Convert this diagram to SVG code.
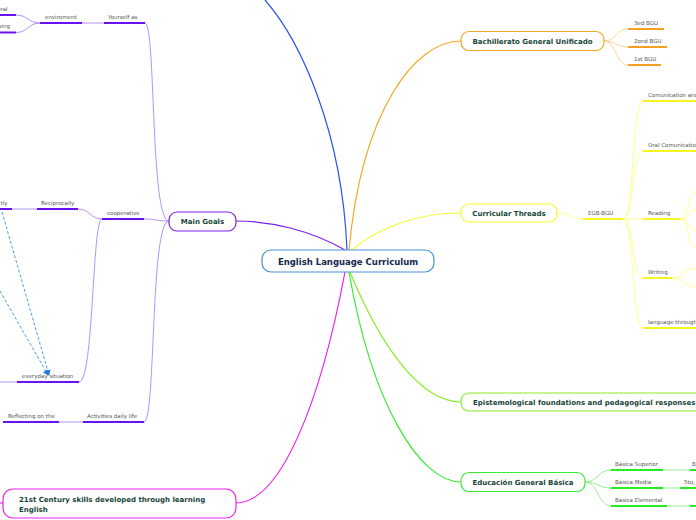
<svg xmlns="http://www.w3.org/2000/svg" width="696" height="520" viewBox="0 0 696 520">
<defs>
<style>
.node{fill:#fff;stroke-width:1.2}
.nt{font-family:"DejaVu Sans",Verdana,sans-serif;font-weight:bold;font-size:7px;fill:#17443a}
.lb{font-family:"DejaVu Sans",Verdana,sans-serif;font-size:5.5px;fill:#555}
.c{fill:none;stroke-width:1.2}
.u{fill:none;stroke-width:2}
.t{fill:none;stroke-width:0.9}
</style>
<marker id="ah" markerWidth="6" markerHeight="6" refX="5" refY="3" orient="auto" markerUnits="userSpaceOnUse">
<path d="M0,0 L6,3 L0,6 Z" fill="#2a7ae0"/>
</marker>
</defs>
<rect width="696" height="520" fill="#fff"/>

<g id="connectors">
<path class="c" stroke="#2255ee" d="M347,250 C342,130 300,40 265,0"/>
<path class="c" stroke="#f5a623" d="M349,250 C362,110 415,41 461,41"/>
<path class="c" stroke="#f8f830" d="M352,250 C380,226 420,213 461,213"/>
<path class="c" stroke="#7a22ee" d="M345,250 C310,230 270,221 236,221"/>
<path class="c" stroke="#88ee22" d="M350,272 C380,345 420,402 461,402"/>
<path class="c" stroke="#33ee33" d="M349,272 C372,405 420,482 461,482"/>
<path class="c" stroke="#ee22ee" d="M345,272 C320,405 280,503 236,503"/>
<path class="c" stroke="#ee22ee" d="M3,503 L0,503"/>

<path class="t" stroke="#fcd088" d="M604,41 C616,41 616,29 628,29"/>
<path class="t" stroke="#fcd088" d="M604,41 C616,41 616,47 628,47"/>
<path class="t" stroke="#fcd088" d="M604,41 C616,41 616,65 628,65"/>
<path class="u" stroke="#f5a020" d="M628,29 L664,29 M628,47 L667,47 M628,65 L661,65"/>

<path class="t" stroke="#ffff80" d="M557,213 C570,213 570,219 583,219"/>
<path class="u" stroke="#f5f520" d="M583,219 L623,219"/>
<path class="t" stroke="#ffff80" d="M623,219 L643,219"/>
<path class="t" stroke="#ffff80" d="M623,219 C634,219 632,101 643,101"/>
<path class="t" stroke="#ffff80" d="M623,219 C634,219 632,151 643,151"/>
<path class="t" stroke="#ffff80" d="M623,219 C634,219 632,278 643,278"/>
<path class="t" stroke="#ffff80" d="M623,219 C634,219 632,328 643,328"/>
<path class="u" stroke="#f5f520" d="M643,101 L696,101 M643,151 L696,151 M643,219 L680,219 M643,278 L672,278 M643,328 L696,328"/>
<path class="t" stroke="#ffff80" d="M680,219 C690,219 686,192 696,192"/>
<path class="t" stroke="#ffff80" d="M680,219 C690,219 688,210 696,210"/>
<path class="t" stroke="#ffff80" d="M680,219 C690,219 688,230 696,230"/>
<path class="t" stroke="#ffff80" d="M680,219 C690,219 686,247 696,247"/>
<path class="t" stroke="#ffff80" d="M672,278 C684,278 684,268 696,268"/>
<path class="t" stroke="#ffff80" d="M672,278 C684,278 684,287 696,287"/>

<path class="t" stroke="#88ee88" d="M585,482 C598,482 598,470 611,470"/>
<path class="t" stroke="#88ee88" d="M585,482 C598,482 598,488 611,488"/>
<path class="t" stroke="#88ee88" d="M585,482 C598,482 598,506 611,506"/>
<path class="u" stroke="#22ee22" d="M611,470 L663,470 M611,488 L663,488 M611,506 L667,506"/>
<path class="t" stroke="#88ee88" d="M663,470 L690,470 M663,488 L680,488 M667,506 L690,506"/>
<path class="u" stroke="#22ee22" d="M690,470 L696,470 M680,488 L696,488 M690,506 L696,506"/>

<path class="t" stroke="#a888f8" d="M169,221 C150,221 156,23 145,23"/>
<path class="t" stroke="#a888f8" d="M169,221 C156,221 156,219 144,219"/>
<path class="t" stroke="#a888f8" d="M169,221 C150,221 156,422 144,422"/>
<path class="u" stroke="#6a11f0" d="M104,23 L145,23"/>
<path class="t" stroke="#a888f8" d="M82,23 L104,23"/>
<path class="u" stroke="#6a11f0" d="M40,23 L82,23"/>
<path class="t" stroke="#a888f8" d="M40,23 C28,23 28,15 16,15"/>
<path class="t" stroke="#a888f8" d="M40,23 C28,23 28,32.5 16,32.5"/>
<path class="u" stroke="#6a11f0" d="M0,15 L16,15 M0,32.5 L16,32.5"/>

<path class="u" stroke="#6a11f0" d="M102,219 L144,219"/>
<path class="t" stroke="#a888f8" d="M102,219 C90,219 90,209 78,209"/>
<path class="t" stroke="#a888f8" d="M102,219 C92,219 94,382 79,382"/>
<path class="u" stroke="#6a11f0" d="M37,209 L78,209"/>
<path class="t" stroke="#a888f8" d="M12,209 L37,209"/>
<path class="u" stroke="#6a11f0" d="M0,209 L12,209"/>
<path class="u" stroke="#6a11f0" d="M17,382 L79,382"/>
<path class="t" stroke="#a888f8" d="M0,382 L17,382"/>

<path class="u" stroke="#6a11f0" d="M83,422 L144,422"/>
<path class="t" stroke="#a888f8" d="M59,422 L83,422"/>
<path class="u" stroke="#6a11f0" d="M3,422 L59,422"/>

<path fill="none" stroke="#4a9ae8" stroke-width="1" stroke-dasharray="3,2" d="M2,212 L49,375" marker-end="url(#ah)"/>
<path fill="none" stroke="#4a9ae8" stroke-width="1" stroke-dasharray="3,2" d="M0,291 L48,375" marker-end="url(#ah)"/>
</g>

<g id="center">
<rect class="node" x="262" y="250" width="172" height="22" rx="9" stroke="#4a90d9"/>
<text x="348" y="264.5" text-anchor="middle" font-family="DejaVu Sans,Verdana,sans-serif" font-weight="bold" font-size="8.5" fill="#142850">English Language Curriculum</text>
</g>

<g id="bachillerato">
<rect class="node" x="461" y="31.5" width="143" height="19" rx="8" stroke="#f5a623"/>
<text class="nt" x="532.5" y="43.5" text-anchor="middle">Bachillerato General Unificado</text>
</g>
<g id="bgu3"><text class="lb" x="634" y="25">3ed BGU</text></g>
<g id="bgu2"><text class="lb" x="634" y="43">2ond BGU</text></g>
<g id="bgu1"><text class="lb" x="634" y="61">1st BGU</text></g>

<g id="curricular">
<rect class="node" x="461" y="204" width="96" height="18" rx="8" stroke="#f8f830"/>
<text class="nt" x="509" y="215.5" text-anchor="middle">Curricular Threads</text>
</g>
<g id="egb"><text class="lb" x="588" y="214.5">EGB-BGU</text></g>
<g id="comunication"><text class="lb" x="648" y="96.5">Comunication and</text></g>
<g id="oral"><text class="lb" x="648" y="146.5">Oral Comunication</text></g>
<g id="reading"><text class="lb" x="648" y="214.5">Reading</text></g>
<g id="writing"><text class="lb" x="648" y="273.5">Writing</text></g>
<g id="language"><text class="lb" x="648" y="323.5">language through</text></g>

<g id="epistemological">
<rect class="node" x="461" y="393" width="250" height="18" rx="8" stroke="#88ee22"/>
<text class="nt" x="473" y="404.5">Epistemological foundations and pedagogical responses</text>
</g>

<g id="educacion">
<rect class="node" x="461" y="472.5" width="124" height="19" rx="8" stroke="#33ee33"/>
<text class="nt" x="523" y="484.5" text-anchor="middle">Educación General Básica</text>
</g>
<g id="superior"><text class="lb" x="615" y="465.5">Básica Superior</text><text class="lb" x="692" y="465.5">B</text></g>
<g id="media"><text class="lb" x="615" y="483.5">Básica Media</text><text class="lb" x="684" y="483.5">5to, </text></g>
<g id="elemental"><text class="lb" x="615" y="501.5">Básica Elemental</text></g>

<g id="maingoals">
<rect class="node" x="169" y="212" width="67" height="19" rx="8" stroke="#7a22ee"/>
<text class="nt" x="202.5" y="224" text-anchor="middle">Main Goals</text>
</g>
<g id="yourself"><text class="lb" x="108" y="19">Yourself as</text></g>
<g id="enviroment"><text class="lb" x="45" y="19">enviroment</text></g>
<g id="natural"><text class="lb" x="-3" y="10.5">ural</text></g>
<g id="knowing"><text class="lb" x="-3" y="28">wing</text></g>
<g id="cooperative"><text class="lb" x="107" y="214.5">cooperative</text></g>
<g id="reciprocally"><text class="lb" x="41" y="205">Reciprocally</text></g>
<g id="tly"><text class="lb" x="0.5" y="205">tly</text></g>
<g id="everyday"><text class="lb" x="22" y="377.5">everyday situation</text></g>
<g id="activities"><text class="lb" x="87" y="418">Activities  daily life</text></g>
<g id="reflecting"><text class="lb" x="8" y="418">Reflecting on the</text></g>

<g id="century">
<rect class="node" x="3" y="489" width="233" height="29" rx="10" stroke="#ee22ee"/>
<text class="nt" x="19" y="502">21st Century skills developed through learning</text>
<text class="nt" x="19" y="511.5">English</text>
</g>
</svg>
